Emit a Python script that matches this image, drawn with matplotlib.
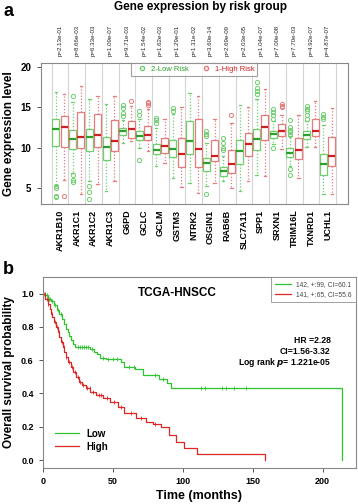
import numpy as np
import matplotlib
matplotlib.use("Agg")
import matplotlib.pyplot as plt
from matplotlib.lines import Line2D

plt.rcParams['font.family'] = ['Liberation Sans', 'DejaVu Sans']

# ---------------- panel a data ----------------
genes = ['AKR1B10', 'AKR1C1', 'AKR1C2', 'AKR1C3', 'G6PD', 'GCLC', 'GCLM', 'GSTM3',
         'NTRK2', 'OSGIN1', 'RAB6B', 'SLC7A11', 'SPP1', 'SRXN1', 'TRIM16L', 'TXNRD1', 'UCHL1']
p_values = ['p=2.13e-01', 'p=8.66e-03', 'p=6.33e-03', 'p=1.09e-07', 'p=9.71e-03', 'p=1.54e-02',
            'p=1.62e-03', 'p=1.29e-01', 'p=1.31e-02', 'p=3.60e-14', 'p=2.69e-09', 'p=2.03e-05',
            'p=1.04e-07', 'p=7.00e-08', 'p=7.70e-03', 'p=4.92e-07', 'p=4.87e-07']

# [whisker low, q1, median, q3, whisker high]
low_box = [[5.4, 10.25, 12.3, 13.5, 16.9], [6.9, 9.85, 11.1, 12.2, 15.7],
           [5.8, 9.55, 11.3, 12.3, 16.0], [4.6, 8.4, 10.1, 11.3, 15.4],
           [10.6, 11.6, 12.1, 12.45, 13.4], [10.0, 11.0, 11.4, 12.0, 13.6],
           [7.7, 9.25, 9.75, 10.5, 12.4], [6.25, 8.8, 9.85, 11.0, 14.2],
           [5.55, 9.15, 10.8, 13.35, 16.8], [5.2, 7.05, 8.1, 8.65, 10.6],
           [5.8, 6.5, 7.05, 7.55, 8.9], [4.6, 8.0, 9.55, 11.0, 15.3],
           [6.65, 9.65, 11.1, 12.3, 16.0], [10.4, 11.2, 11.7, 12.1, 13.3],
           [7.7, 8.8, 9.35, 10.0, 11.4], [10.1, 11.1, 11.6, 12.1, 13.3],
           [4.2, 6.65, 8.0, 9.25, 12.85]]
low_fliers = [[5.2, 5.0, 4.05, 3.9], [16.35, 6.65, 6.0, 5.7], [5.2, 4.5, 3.65], [],
              [15.3, 14.9, 14.3, 13.9], [14.5, 14.1, 8.5], [13.7, 13.4, 13.1], [14.9, 14.5],
              [], [12.0, 11.7, 11.5, 4.2], [11.2, 10.6, 10.0, 9.7], [],
              [18.1, 17.4, 17.0, 16.6], [14.8, 14.4, 14.0, 13.6, 10.0],
              [13.4, 12.6, 12.2, 11.9, 11.6, 7.3, 6.65], [15.2, 14.8, 14.5, 14.1, 13.6],
              [14.2, 13.8, 13.5]]
high_box = [[6.0, 10.1, 12.55, 13.9, 16.65], [4.2, 9.95, 11.3, 14.4, 17.7],
            [5.5, 10.1, 11.6, 14.2, 16.35], [5.8, 9.6, 10.8, 13.4, 16.4],
            [10.8, 11.2, 12.25, 13.3, 15.2], [9.6, 11.0, 11.6, 12.65, 14.8],
            [8.1, 9.35, 10.25, 11.2, 13.5], [5.1, 7.6, 9.15, 11.2, 15.0],
            [4.4, 7.6, 9.85, 13.55, 16.45], [5.6, 8.3, 8.9, 10.9, 13.5],
            [5.0, 6.85, 8.0, 9.75, 13.0], [5.8, 8.95, 10.4, 11.8, 15.1],
            [6.5, 10.9, 12.5, 14.1, 17.3], [9.8, 11.5, 12.1, 12.9, 14.1],
            [6.25, 8.6, 9.65, 11.2, 14.1], [10.1, 11.5, 12.1, 13.55, 15.75],
            [4.2, 7.75, 9.0, 11.3, 14.9]]
high_fliers = [[3.97], [], [], [], [15.75], [15.6, 15.5, 15.3], [], [], [], [], [14.0], [],
               [], [15.4, 15.2, 15.1], [], [], []]

# ---------------- panel b data ----------------
low_t = [0, 2, 4, 6, 8, 10, 12, 14, 15.5, 17, 18, 19, 20, 21.5, 23, 34, 37, 39, 41, 45,
         56, 58, 66, 72, 83, 89, 92, 214]
low_s = [1.0, 0.99, 0.97, 0.955, 0.93, 0.9, 0.88, 0.85, 0.82, 0.79, 0.77, 0.745, 0.72,
         0.695, 0.68, 0.67, 0.65, 0.635, 0.615, 0.605, 0.59, 0.56, 0.545, 0.51, 0.485,
         0.46, 0.43, 0.0]
low_censor = [1, 2, 3, 4.5, 5.5, 7, 9, 11, 13, 25, 26.5, 28, 29.5, 31, 32.5, 35, 43, 47, 50,
              53, 62, 65, 80, 86, 113, 116, 128, 131, 137, 145]
high_t = [0, 2, 3.5, 5, 6, 7, 8, 9.5, 11, 12, 13, 14.3, 15.5, 16.7, 18, 20, 22, 24, 26, 28,
          31, 34, 38, 43, 48, 53.5, 58, 66.5, 74, 78.5, 84.5, 90.5, 95, 101, 110, 159]
high_s = [1.0, 0.97, 0.94, 0.91, 0.88, 0.86, 0.83, 0.8, 0.77, 0.74, 0.71, 0.68, 0.65, 0.62,
          0.59, 0.56, 0.53, 0.5, 0.47, 0.45, 0.43, 0.41, 0.39, 0.37, 0.35, 0.32, 0.285, 0.25,
          0.23, 0.215, 0.2, 0.15, 0.11, 0.074, 0.036, 0.0]
high_censor = [1.5, 3, 4, 6.5, 8.5, 10, 11.5, 13.5, 15, 17, 19, 21, 23, 25, 27, 29, 32, 33.5,
               36, 40, 42, 46, 51, 56, 63, 70, 80]

green_edge, green_med = '#6fcf6f', '#2ca02c'
red_edge, red_med = '#e57b7b', '#cc1f1f'
km_green, km_red = '#2fc42f', '#dd2626'

fig = plt.figure(figsize=(3.58, 5.04), dpi=100)

# ================= panel a =================
ax = fig.add_axes([40.5 / 358, 1 - 204 / 504, 307 / 358, 141 / 504])
pos = np.arange(1, len(genes) + 1)


def stats(box, fl):
    return [dict(whislo=b[0], q1=b[1], med=b[2], q3=b[3], whishi=b[4], fliers=f)
            for b, f in zip(box, fl)]


for b, f, off, ec, mc in [(low_box, low_fliers, -0.25, green_edge, green_med),
                          (high_box, high_fliers, 0.25, red_edge, red_med)]:
    ax.bxp(stats(b, f), positions=pos + off, widths=0.42, patch_artist=True,
           boxprops=dict(facecolor='white', edgecolor=ec, linewidth=0.9),
           medianprops=dict(color=mc, linewidth=1.6),
           whiskerprops=dict(color=ec, linestyle=(0, (1, 1.5)), linewidth=0.9),
           capprops=dict(color=ec, linewidth=0.9),
           flierprops=dict(marker='o', markerfacecolor='none', markeredgecolor=ec,
                           markersize=3, markeredgewidth=0.7),
           capwidths=0.15, zorder=3)

for xv in np.arange(0.5, len(genes) + 1, 1):
    ax.axvline(xv, color='#d4d4d4', linewidth=0.8, zorder=1)

ax.set_xlim(-0.17, 18.19)
ax.set_ylim(3.0, 20.5)
ax.set_yticks([5, 10, 15, 20])
ax.set_yticklabels(['5', '10', '15', '20'], fontweight='bold', fontsize=7)
ax.set_xticks(pos)
ax.set_xticklabels(genes, rotation=90, fontweight='bold', fontsize=6.5)
ax.tick_params(axis='x', length=0, pad=4)
ax.tick_params(axis='y', length=3, width=0.7, color='#555555')
for s in ax.spines.values():
    s.set_color('#888888')
    s.set_linewidth(0.8)
ax.set_ylabel('Gene expression level', fontweight='bold', fontsize=8.5, labelpad=4)

for xp, pv in zip(pos, p_values):
    ax.text(xp, 1.05, pv, rotation=90, fontsize=4.4, ha='center', va='bottom',
            transform=ax.get_xaxis_transform(), color='#222222')

handles = [Line2D([], [], marker='o', linestyle='none', markerfacecolor='none',
                  markeredgecolor=green_edge, markersize=3),
           Line2D([], [], marker='o', linestyle='none', markerfacecolor='none',
                  markeredgecolor=red_edge, markersize=3)]
leg = ax.legend(handles, ['2-Low Risk', '1-High Risk'], loc='upper center', ncol=2,
                fontsize=5.5, frameon=True, fancybox=False, borderpad=0.35,
                handletextpad=0.2, columnspacing=1.2, borderaxespad=0,
                bbox_to_anchor=(0.501, 1.0))
leg.get_frame().set_edgecolor('#888888')
leg.get_frame().set_linewidth(0.8)
leg.get_texts()[0].set_color(green_med)
leg.get_texts()[1].set_color(red_med)

fig.text(200 / 358, 1 - 7 / 504, 'Gene expression by risk group', ha='center', va='center',
         fontsize=8.5, fontweight='bold')
fig.text(3 / 358, 1 - 11 / 504, 'a', ha='left', va='center', fontsize=13, fontweight='bold')

# ================= panel b =================
bx = fig.add_axes([42.7 / 358, 1 - 468 / 504, 313.3 / 358, 191 / 504])
for t, s, cen, col in [(low_t, low_s, low_censor, km_green),
                       (high_t, high_s, high_censor, km_red)]:
    bx.step(t, s, where='post', color=col, linewidth=0.9)
    idx = np.searchsorted(t, cen, side='right') - 1
    bx.plot(cen, np.array(s)[idx], linestyle='none', marker='|', markersize=3.5,
            markeredgewidth=0.6, color=col)

bx.set_xlim(0, 223.8)
bx.set_ylim(-0.048, 1.1)
bx.set_xticks([0, 50, 100, 150, 200])
bx.set_xticklabels(['0', '50', '100', '150', '200'], fontweight='bold', fontsize=6.5)
bx.set_yticks([0.0, 0.2, 0.4, 0.6, 0.8, 1.0])
bx.set_yticklabels(['0.0', '0.2', '0.4', '0.6', '0.8', '1.0'], fontweight='bold', fontsize=6.5)
bx.tick_params(length=3, width=0.7, color='#555555')
for s in bx.spines.values():
    s.set_color('#888888')
    s.set_linewidth(0.8)
bx.set_xlabel('Time (months)', fontweight='bold', fontsize=9, labelpad=3)
bx.set_ylabel('Overall survival probability', fontweight='bold', fontsize=8.5, labelpad=4)

bx.text(0.43, 0.915, 'TCGA-HNSCC', transform=bx.transAxes, ha='center', va='center',
        fontsize=8.5, fontweight='bold')
bx.text(0.919, 0.665, 'HR =2.28', transform=bx.transAxes, ha='right', va='center',
        fontsize=6.2, fontweight='bold')
bx.text(0.919, 0.608, 'CI=1.56-3.32', transform=bx.transAxes, ha='right', va='center',
        fontsize=6.2, fontweight='bold')
bx.text(0.919, 0.552, 'Log rank $\\boldsymbol{p}$= 1.221e-05', transform=bx.transAxes,
        ha='right', va='center', fontsize=6.2, fontweight='bold')

h2 = [Line2D([], [], color=km_green, linewidth=0.9), Line2D([], [], color=km_red, linewidth=0.9)]
leg2 = bx.legend(h2, ['142, +:99, CI=60.1', '141, +:65, CI=55.6'], loc='upper right',
                 fontsize=4.8, frameon=True, fancybox=False, borderaxespad=0,
                 handlelength=2.4, borderpad=0.6, labelspacing=0.5)
leg2.get_frame().set_edgecolor('#888888')
leg2.get_frame().set_linewidth(0.7)
for tx in leg2.get_texts():
    tx.set_color('#444444')
bx.add_artist(leg2)

leg3 = bx.legend(h2, ['Low', 'High'], loc='lower left', fontsize=7, frameon=False,
                 handlelength=2.5, bbox_to_anchor=(0.01, 0.04), labelspacing=0.3)
for tx in leg3.get_texts():
    tx.set_fontweight('bold')

fig.text(3 / 358, 1 - 270 / 504, 'b', ha='left', va='center', fontsize=13, fontweight='bold')

fig.savefig('out.png', dpi=100)
